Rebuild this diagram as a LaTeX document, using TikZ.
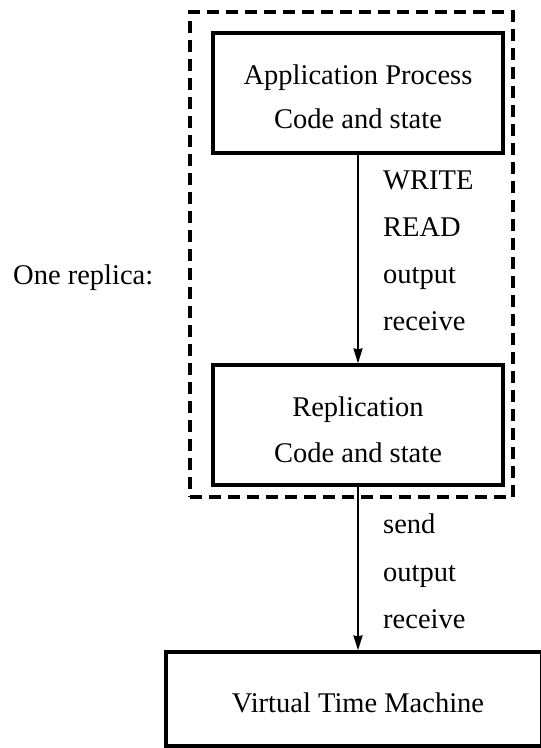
\documentclass[tikz,border=0pt]{standalone}
\usepackage{fontspec}
\setmainfont{Liberation Serif}
\usetikzlibrary{arrows.meta}
\begin{document}
\begin{tikzpicture}[x=1pt,y=-1pt,
  box/.style={draw, line width=3.2pt, inner sep=0pt},
  dbox/.style={draw, line width=3.2pt, dash pattern=on 12pt off 7pt, inner sep=0pt},
  txt/.style={font=\fontsize{28.5}{32}\selectfont, anchor=base, inner sep=0pt},
  lbl/.style={font=\fontsize{28.5}{32}\selectfont, anchor=base west, inner sep=0pt},
  arr/.style={line width=2pt, -{Stealth[length=15pt,width=9pt,inset=1pt]}}]
\useasboundingbox (0,0) rectangle (541,748);
\node[dbox, minimum width=323pt, minimum height=485pt] (replica) at (351.5,254.5) {};
\node[box, minimum width=290pt, minimum height=120pt] (app) at (358,93) {};
\node[box, minimum width=290pt, minimum height=120pt] (rep) at (358,425) {};
\node[box, minimum width=376pt, minimum height=94pt] (vtm) at (354,699) {};
\node[txt] (t1) at (358,84) {Application Process};
\node[txt] (t2) at (358,128) {Code and state};
\node[txt] (t3) at (358,416) {Replication};
\node[txt] (t4) at (358,462) {Code and state};
\node[txt] (t5) at (358,712) {Virtual Time Machine};
\node[lbl] (one) at (13,284) {One replica:};
\draw[arr] (app.south) -- (rep.north);
\draw[arr] (rep.south) -- (rep.south |- vtm.north);
\node[lbl] (l1) at (383,189) {WRITE};
\node[lbl] (l2) at (383,236) {READ};
\node[lbl] (l3) at (383,283) {output};
\node[lbl] (l4) at (383,330) {receive};
\node[lbl] (l5) at (383,533) {send};
\node[lbl] (l6) at (383,581) {output};
\node[lbl] (l7) at (383,628) {receive};
\end{tikzpicture}
\end{document}
